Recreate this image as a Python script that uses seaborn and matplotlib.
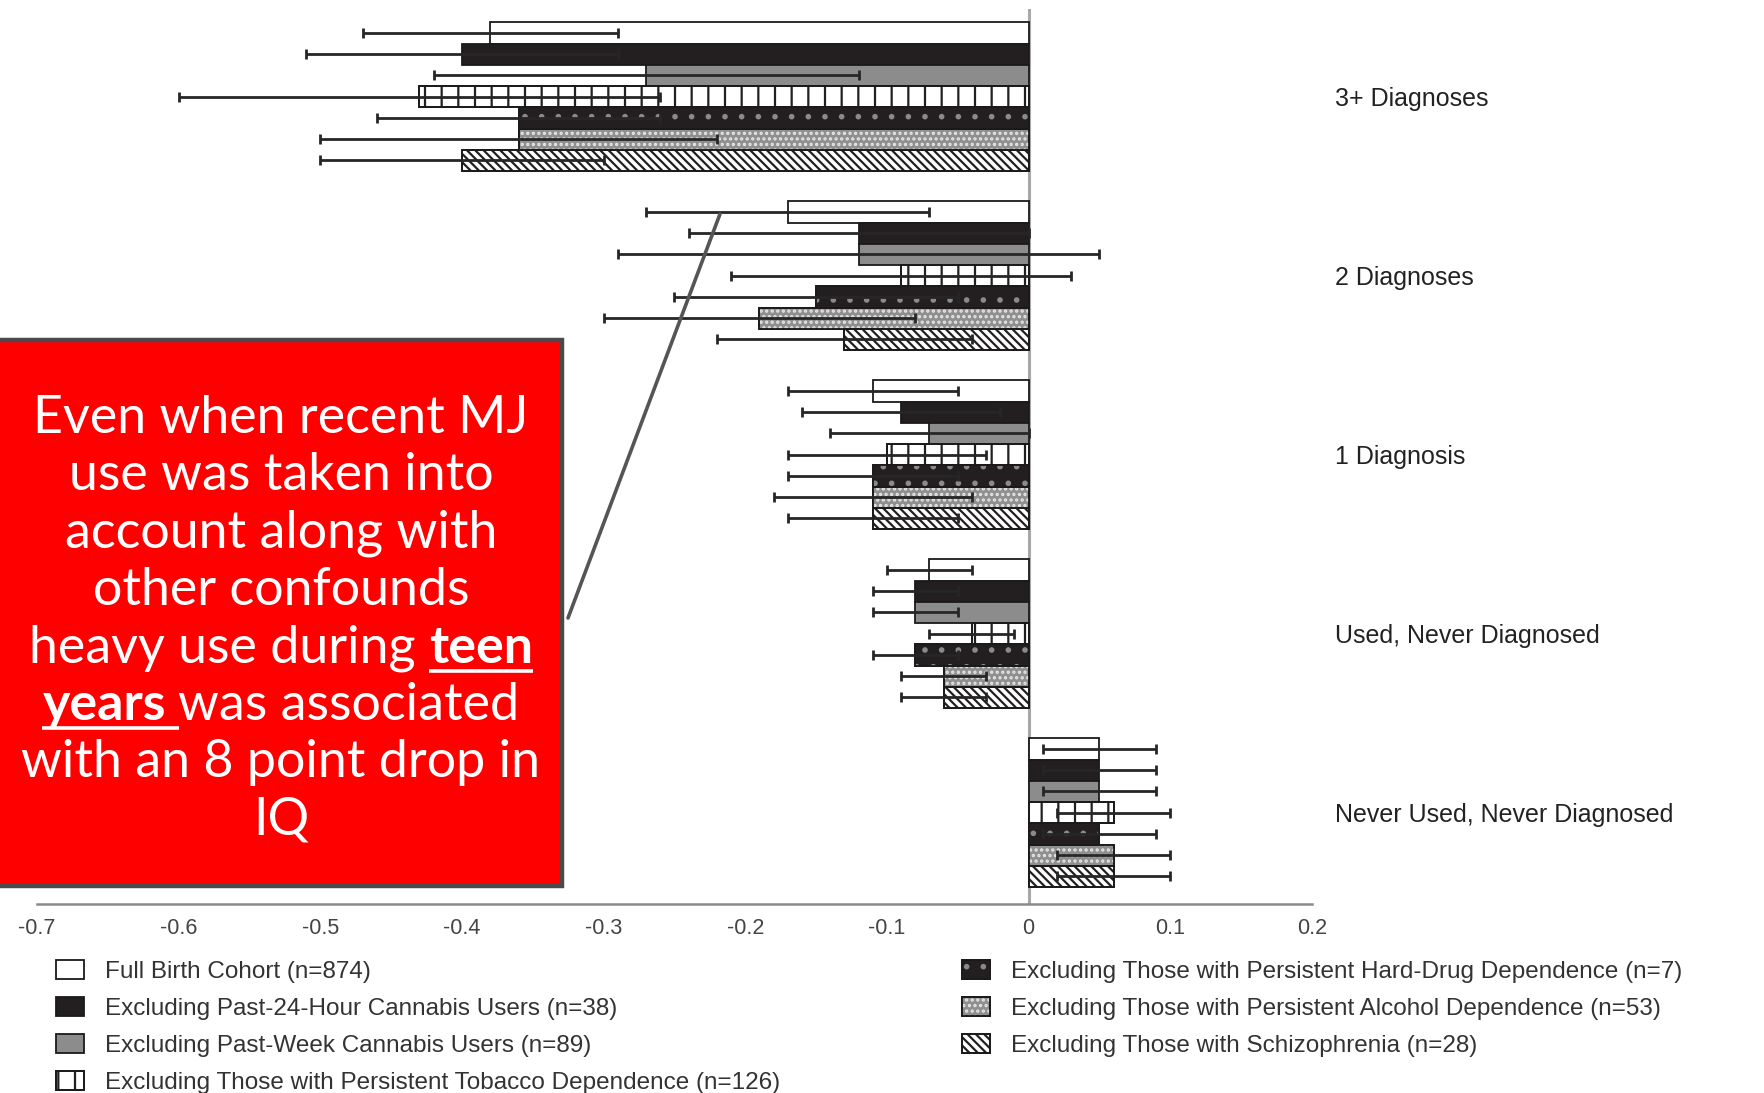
import numpy as np
import pandas as pd
import matplotlib
matplotlib.use("Agg")
import matplotlib.pyplot as plt
from matplotlib.patches import Rectangle, Patch
from matplotlib.lines import Line2D
from matplotlib.legend_handler import HandlerTuple
import seaborn as sns

# ---------------- data ----------------
groups = ["3+ Diagnoses", "2 Diagnoses", "1 Diagnosis",
          "Used, Never Diagnosed", "Never Used, Never Diagnosed"]

series = ["Full Birth Cohort (n=874)",
          "Excluding Past-24-Hour Cannabis Users (n=38)",
          "Excluding Past-Week Cannabis Users (n=89)",
          "Excluding Those with Persistent Tobacco Dependence (n=126)",
          "Excluding Those with Persistent Hard-Drug Dependence (n=7)",
          "Excluding Those with Persistent Alcohol Dependence (n=53)",
          "Excluding Those with Schizophrenia (n=28)"]

full_cohort   = [-0.38, -0.17, -0.11, -0.07, 0.05]
excl_24h      = [-0.40, -0.12, -0.09, -0.08, 0.05]
excl_week     = [-0.27, -0.12, -0.07, -0.08, 0.05]
excl_tobacco  = [-0.43, -0.09, -0.10, -0.04, 0.06]
excl_harddrug = [-0.36, -0.15, -0.11, -0.08, 0.05]
excl_alcohol  = [-0.36, -0.19, -0.11, -0.06, 0.06]
excl_schizo   = [-0.40, -0.13, -0.11, -0.06, 0.06]

err_full      = [0.09, 0.10, 0.06, 0.03, 0.04]
err_24h       = [0.11, 0.12, 0.07, 0.03, 0.04]
err_week      = [0.15, 0.17, 0.07, 0.03, 0.04]
err_tobacco   = [0.17, 0.12, 0.07, 0.03, 0.04]
err_harddrug  = [0.10, 0.10, 0.06, 0.03, 0.04]
err_alcohol   = [0.14, 0.11, 0.07, 0.03, 0.04]
err_schizo    = [0.10, 0.09, 0.06, 0.03, 0.04]

xtick_values = [-0.7, -0.6, -0.5, -0.4, -0.3, -0.2, -0.1, 0.0, 0.1, 0.2]
xtick_labels = ["-0.7", "-0.6", "-0.5", "-0.4", "-0.3", "-0.2", "-0.1", "0", "0.1", "0.2"]

callout_lines = [
    [("Even when recent MJ", False, False)],
    [("use was taken into", False, False)],
    [("account along with", False, False)],
    [("other confounds", False, False)],
    [("heavy use during", False, False), (" ", False, False), ("teen", True, True)],
    [("years", True, True), (" ", True, True), ("was associated", False, False)],
    [("with an 8 point drop in", False, False)],
    [("IQ", False, False)],
]

values = [full_cohort, excl_24h, excl_week, excl_tobacco,
          excl_harddrug, excl_alcohol, excl_schizo]
errors = [err_full, err_24h, err_week, err_tobacco,
          err_harddrug, err_alcohol, err_schizo]

df = pd.DataFrame([
    {"group": g, "series": s, "value": v}
    for s, vals in zip(series, values)
    for g, v in zip(groups, vals)
])

# fill colour, hatch, hatch colour for each series
styles = [
    ("#ffffff", None, None),
    ("#231f20", None, None),
    ("#8c8c8c", None, None),
    ("#ffffff", "|", "#231f20"),
    ("#231f20", ".", "#8a8a8a"),
    ("#8f8f8f", "...", "#e6e6e6"),
    ("#ffffff", "\\\\\\\\", "#231f20"),
]

# ---------------- figure ----------------
W, H = 1765, 1093
sns.set_style("white")
plt.rcParams["font.family"] = ["Liberation Sans", "DejaVu Sans"]
plt.rcParams["axes.unicode_minus"] = False
plt.rcParams["hatch.linewidth"] = 1.6

def fx(x):
    return x / W

def fy(y):
    return 1 - y / H

fig = plt.figure(figsize=(W / 100, H / 100), dpi=100)
ax = fig.add_axes([fx(37), fy(904), (1312 - 37) / W, (904 - 9) / H])

palette = {s: st[0] for s, st in zip(series, styles)}
sns.barplot(data=df, x="value", y="group", hue="series", order=groups,
            hue_order=series, orient="h", palette=palette, saturation=1,
            edgecolor="#1a1a1a", linewidth=1.3, width=0.83,
            errorbar=None, legend=False, ax=ax, zorder=2)

ax.axvline(0, color="#a8a8a8", lw=2.2, zorder=1)

for cont, (fc, hatch, hc), errs in zip(ax.containers, styles, errors):
    ys = []
    for patch in cont.patches:
        if hatch is not None:
            ov = Rectangle((patch.get_x(), patch.get_y()), patch.get_width(),
                           patch.get_height(), facecolor="none", edgecolor=hc,
                           hatch=hatch, lw=0, zorder=2.1)
            ax.add_patch(ov)
            edge = Rectangle((patch.get_x(), patch.get_y()), patch.get_width(),
                             patch.get_height(), facecolor="none",
                             edgecolor="#1a1a1a", lw=1.3, zorder=2.2)
            ax.add_patch(edge)
        ys.append(patch.get_y() + patch.get_height() / 2)
    ax.errorbar(cont.datavalues, ys, xerr=errs, fmt="none", ecolor="#262626",
                elinewidth=2.0, capsize=3.5, capthick=2.0, zorder=5)

ax.set_xlim(-0.7, 0.2)
ax.set_ylim(len(groups) - 0.49, -0.49)
ax.set_xlabel("")
ax.set_ylabel("")
ax.set_xticks(xtick_values)
ax.set_xticklabels(xtick_labels)
for sp in ["top", "right", "left"]:
    ax.spines[sp].set_visible(False)
ax.spines["bottom"].set_color("#8a8a8a")
ax.spines["bottom"].set_linewidth(1.8)
ax.tick_params(axis="x", direction="out", length=6, width=1.8, color="#8a8a8a",
               labelsize=15.5, labelcolor="#444444", pad=4)
ax.yaxis.tick_right()
ax.tick_params(axis="y", length=0, pad=16.5, labelsize=18, labelcolor="#222222")

# ---------------- legend ----------------
handles = []
for (fc, hatch, hc) in styles:
    base = Patch(facecolor=fc, edgecolor="#1a1a1a", lw=1.3)
    if hatch is None:
        handles.append(base)
    else:
        over = Patch(facecolor="none", edgecolor=hc, hatch=hatch, lw=0)
        frame = Patch(facecolor="none", edgecolor="#1a1a1a", lw=1.3)
        handles.append((base, over, frame))

leg_kw = dict(frameon=False, fontsize=17.5, handlelength=1.15, handleheight=0.82,
              handletextpad=0.86, labelspacing=0.58, borderpad=0, borderaxespad=0,
              labelcolor="#333333",
              handler_map={tuple: HandlerTuple(ndivide=1, pad=0)})
leg1 = fig.legend(handles[:4], series[:4], loc="upper left",
                  bbox_to_anchor=(fx(56), fy(960)), **leg_kw)
leg2 = fig.legend(handles[4:], series[4:], loc="upper left",
                  bbox_to_anchor=(fx(962), fy(960)), **leg_kw)

# ---------------- callout ----------------
fig.add_artist(Rectangle((fx(-3), fy(886)), (562 + 3) / W, (886 - 340) / H,
                         transform=fig.transFigure, facecolor="#ff0000",
                         edgecolor="#4a4a4a", lw=3.2, zorder=10))
fig.add_artist(Line2D([fx(568), fx(720)], [fy(618), fy(214)],
                      transform=fig.transFigure, color="#555555", lw=2.6, zorder=10))

renderer = fig.canvas.get_renderer()
box_font = ["Lato", "DejaVu Sans"]

def measure(s, size, bold):
    t = fig.text(0, 0, s, fontsize=size, family=box_font,
                 weight="bold" if bold else "normal")
    w = t.get_window_extent(renderer).width
    t.remove()
    return w

def seg_width(s, size, bold):
    if s == " ":
        return measure("n n", size, bold) - measure("nn", size, bold)
    return measure(s, size, bold)

ref_size = 30
scale = 519 / measure("with an 8 point drop in", ref_size, False)
box_size = ref_size * scale

cx = 281
for i, line in enumerate(callout_lines):
    base_y = 433 + i * 57.4
    widths = [seg_width(s, box_size, b) for s, b, u in line]
    x = cx - sum(widths) / 2
    for (s, b, u), w in zip(line, widths):
        if s != " ":
            fig.text(fx(x), fy(base_y), s, fontsize=box_size, family=box_font,
                     weight="bold" if b else "normal", color="white",
                     ha="left", va="baseline", zorder=11)
        if u:
            fig.add_artist(Line2D([fx(x), fx(x + w)], [fy(base_y + 8), fy(base_y + 8)],
                                  transform=fig.transFigure, color="white",
                                  lw=2.6, solid_capstyle="butt", zorder=11))
        x += w

fig.savefig("out.png", dpi=100)
